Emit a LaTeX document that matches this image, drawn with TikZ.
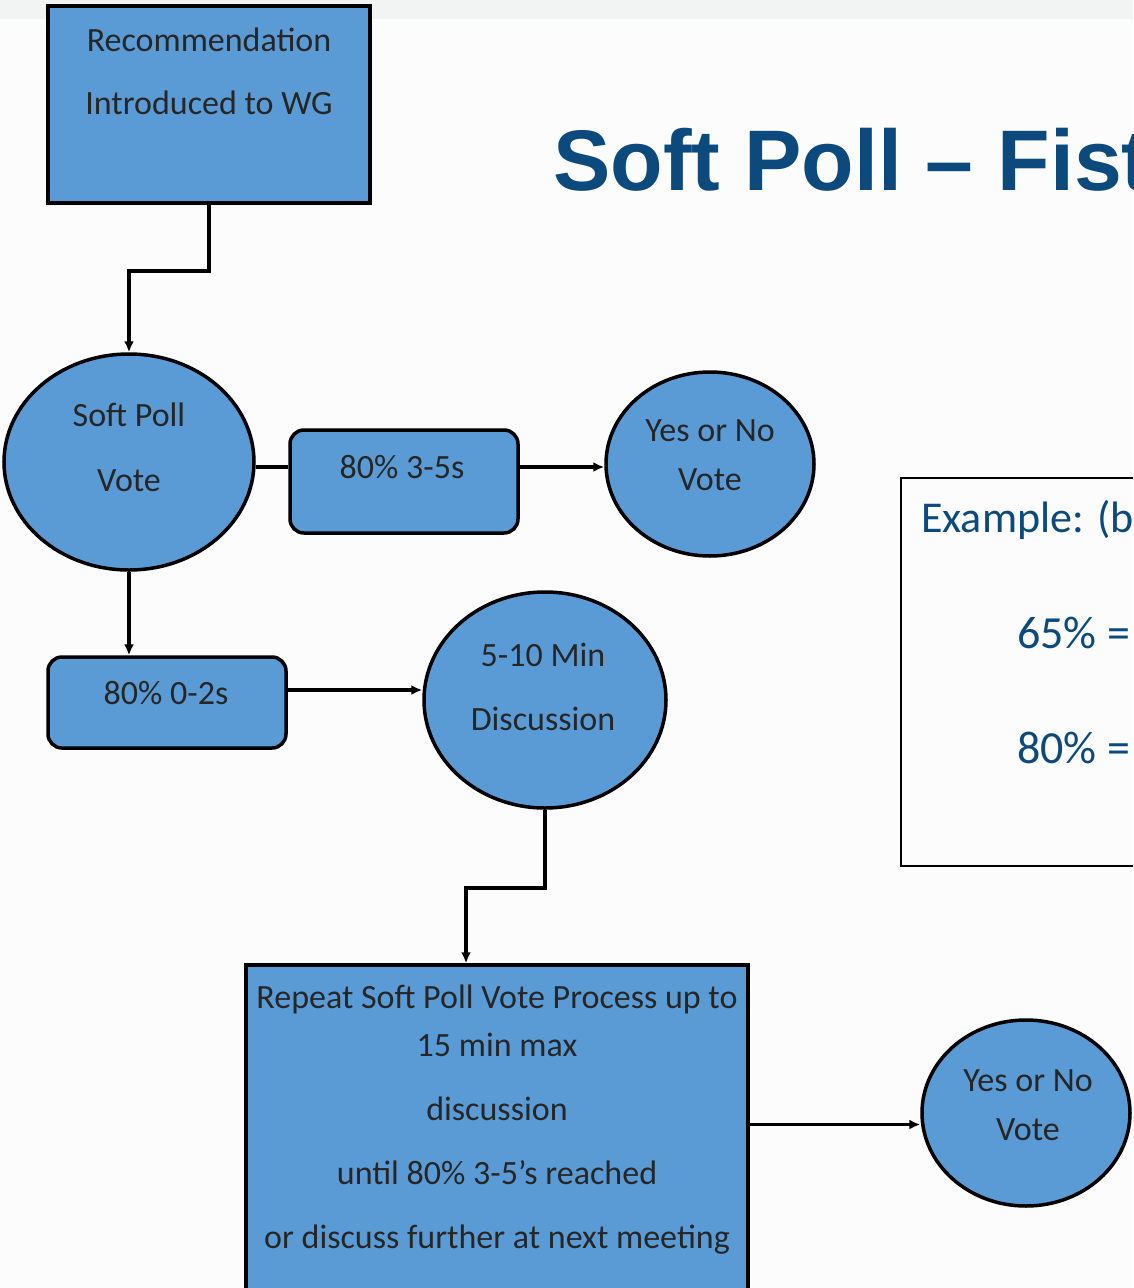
\documentclass[tikz,border=0pt]{standalone}
\usepackage{fontspec}
\setmainfont{Carlito}
\newfontfamily\titlefont{Liberation Sans}
\usetikzlibrary{shapes.geometric,arrows.meta}

\definecolor{boxblue}{RGB}{91,155,213}
\definecolor{titleblue}{RGB}{12,74,126}
\definecolor{topbar}{RGB}{242,243,243}
\definecolor{pagebg}{RGB}{252,252,252}

\begin{document}
\begin{tikzpicture}[x=1pt,y=-1pt,
		sqbox/.style={draw=black, line width=3.5pt, fill=boxblue, inner sep=0pt},
		rbox/.style={sqbox, rounded corners=14pt},
		oval/.style={ellipse, draw=black, line width=3.5pt, fill=boxblue, inner sep=0pt},
		txt/.style={align=center, text=black!85, font=\fontsize{34}{64}\selectfont},
		arr/.style={line width=3.5pt, -{Latex[length=11pt,width=10pt]}},
		link/.style={line width=3.5pt}]
		
		\useasboundingbox (0,0) rectangle (1133,1288);
		\clip (0,0) rectangle (1133,1288);
		
		% page
		\fill[pagebg] (0,0) rectangle (1133,1288);
		\fill[topbar] (0,0) rectangle (1133,19);
		
		% title and example
		\node[anchor=base west, inner sep=0pt, text=titleblue, font=\titlefont\bfseries\fontsize{86}{90}\selectfont] (title) at (553,190) {Soft Poll – Fist};
		\node[draw=black, line width=1.5pt, minimum width=240pt, minimum height=388pt, inner sep=0pt] (expl) at (1021,672) {};
		\node[anchor=base west, inner sep=0pt, text=titleblue, font=\fontsize{44}{48}\selectfont] (expltxt) at (921,532) {Example: (b};
		\node[anchor=base west, inner sep=0pt, text=titleblue, font=\fontsize{46}{48}\selectfont] (sixtyfive) at (1017,648) {65\% =};
		\node[anchor=base west, inner sep=0pt, text=titleblue, font=\fontsize{46}{48}\selectfont] (eighty) at (1017,763) {80\% =};
		
		% shapes
		\node[sqbox, minimum width=322pt, minimum height=197pt] (intro) at (209,104.5) {};
		\node[oval, minimum width=250pt, minimum height=216pt] (vote) at (129,462) {};
		\node[rbox, minimum width=228pt, minimum height=103pt] (high) at (404,481.5) {};
		\node[oval, minimum width=208pt, minimum height=184pt] (yesno) at (710,464) {};
		\node[rbox, minimum width=238pt, minimum height=91pt] (low) at (167,702.5) {};
		\node[oval, minimum width=242pt, minimum height=216pt] (disc) at (545,700) {};
		\node[sqbox, minimum width=502pt, minimum height=325pt] (repeat) at (497,1127.5) {};
		\node[oval, minimum width=208pt, minimum height=186pt] (yesnotwo) at (1026,1113) {};
		
		% texts
		\node[txt, font=\fontsize{34}{63}\selectfont] at (209,71.5) {Recommendation\\Introduced to WG};
		\node[txt, font=\fontsize{34}{65}\selectfont] at (129,447.5) {Soft Poll\\Vote};
		\node[txt] at (402,467) {80\% 3-5s};
		\node[txt, font=\fontsize{34}{49}\selectfont] at (710,455.5) {Yes or No\\Vote};
		\node[txt] at (166,693) {80\% 0-2s};
		\node[txt] at (543,687) {5-10 Min\\Discussion};
		\node[txt] at (497,1120) {Repeat Soft Poll Vote Process up to\\[-16pt]15 min max\\discussion\\until 80\% 3-5’s reached\\or discuss further at next meeting};
		\node[txt, font=\fontsize{34}{49}\selectfont] at (1028,1105.5) {Yes or No\\Vote};
		
		% connectors
		\coordinate (highin) at ([yshift=14.5pt]high.west);
		\coordinate (highout) at ([yshift=14.5pt]high.east);
		\coordinate (lowout) at ([yshift=12.5pt]low.east);
		\coordinate (repout) at ([yshift=3pt]repeat.east);
		
		\draw[arr] (intro.south) -- ++(0,66) -| (vote.north);
		\draw[link] (vote.east |- highin) -- (highin);
		\draw[arr] (highout) -- (yesno.west |- highout);
		\draw[arr] (vote.south) -- (vote.south |- low.north);
		\draw[arr] (lowout) -- (disc.west |- lowout);
		\draw[arr] (disc.south) -- ++(0,78) -| ([xshift=-31pt]repeat.north);
		\draw[arr] (repout) -- (yesnotwo.west |- repout);
		
	\end{tikzpicture}
\end{document}
